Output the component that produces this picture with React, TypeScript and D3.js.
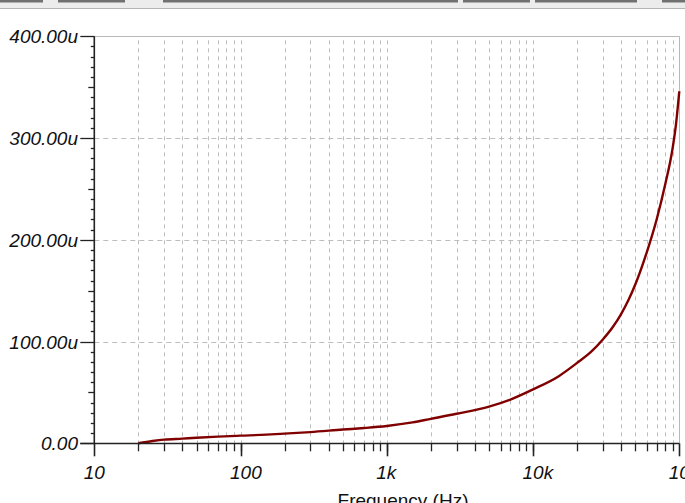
import React from "react";
import * as d3 from "d3";

const freqs = [20, 25, 30, 40, 50, 70, 100, 150, 200, 300, 500, 700, 1000, 1500, 2000, 3000, 5000, 7000, 10000, 15000, 20000, 25000, 30000, 35000, 40000, 45000, 50000, 60000, 70000, 80000, 90000, 95000, 100000];
const values = [0, 2.2, 3.6, 4.6, 5.5, 6.6, 7.5, 8.5, 9.5, 11, 13.5, 15, 17, 20.5, 24, 29, 36, 43, 53, 66, 79, 90, 102, 114, 127, 141, 156, 188, 220, 254, 290, 314, 346];
const xTickValues = [10, 100, 1000, 10000, 100000];
const xTickLabels = ["10", "100", "1k", "10k", "100k"];
const yTickValues = [0, 100, 200, 300, 400];
const yTickLabels = ["0.00", "100.00u", "200.00u", "300.00u", "400.00u"];
const xTitle = "Frequency (Hz)";

const W = 685;
const H = 503;

export default function App() {
  const x = d3.scaleLog().domain([10, 100000]).range([94.3, 679.3]);
  const y = d3.scaleLinear().domain([0, 400]).range([443.3, 36.3]);
  const left = x(10);
  const right = x(100000);
  const top = y(400);
  const bottom = y(0);

  const minorX: number[] = [];
  for (let dec = 10; dec < 100000; dec *= 10) {
    for (let m = 1; m <= 9; m++) {
      const v = dec * m;
      if (v > 10 && v < 100000) minorX.push(v);
    }
  }
  const minorY = d3.range(0, 401, 10);

  const line = d3
    .line<number>()
    .x((_, i) => x(freqs[i]))
    .y((d) => y(d))
    .curve(d3.curveMonotoneX);

  const gaps = [
    [43, 58],
    [125, 163],
    [458, 463],
    [530, 535],
    [637, 662],
  ];
  const darkSegs: number[][] = [];
  let start = 0;
  gaps.forEach(([a, b]) => {
    darkSegs.push([start, a]);
    start = b;
  });
  darkSegs.push([start, W]);

  const font = "'Liberation Sans', Arial, sans-serif";

  return (
    <svg
      width={W}
      height={H}
      style={{ position: "absolute", left: 0, top: 0, background: "#fff" }}
      fontFamily={font}
    >
      {/* top toolbar strip */}
      <rect x={0} y={0} width={W} height={9} fill="#ececec" />
      {darkSegs.map(([a, b], i) => (
        <rect key={"ds" + i} x={a} y={0} width={b - a} height={2.5} fill="#707070" />
      ))}
      <line x1={0} x2={W} y1={8.5} y2={8.5} stroke="#b4b4b4" strokeWidth={1} />

      {/* vertical grid */}
      {minorX.map((v) => (
        <line
          key={"gx" + v}
          x1={Math.round(x(v)) + 0.5}
          x2={Math.round(x(v)) + 0.5}
          y1={top + 4}
          y2={bottom}
          stroke="#bdbdbd"
          strokeWidth={1}
          strokeDasharray="4,4"
        />
      ))}
      {/* horizontal grid */}
      {[100, 200, 300].map((v) => (
        <line
          key={"gy" + v}
          x1={left}
          x2={right}
          y1={Math.round(y(v)) + 0.5}
          y2={Math.round(y(v)) + 0.5}
          stroke="#bdbdbd"
          strokeWidth={1}
          strokeDasharray="5,4"
        />
      ))}
      {/* frame top/right */}
      <line x1={left} x2={right} y1={Math.round(top) + 0.5} y2={Math.round(top) + 0.5} stroke="#b8b8b8" strokeWidth={1} />
      <line x1={Math.round(right) + 0.5} x2={Math.round(right) + 0.5} y1={top} y2={bottom} stroke="#b8b8b8" strokeWidth={1} />

      {/* curve */}
      <path d={line(values) || ""} fill="none" stroke="#800000" strokeWidth={2.4} />

      {/* y axis */}
      <line x1={left} x2={left} y1={top} y2={bottom} stroke="#222" strokeWidth={1.6} />
      {minorY.map((v) => {
        const len = v % 100 === 0 ? 14 : v % 50 === 0 ? 6 : 3.5;
        return (
          <line
            key={"ty" + v}
            x1={left - len}
            x2={left}
            y1={Math.round(y(v)) + 0.5}
            y2={Math.round(y(v)) + 0.5}
            stroke="#222"
            strokeWidth={1.3}
          />
        );
      })}
      {yTickValues.map((v, i) => (
        <text
          key={"yl" + v}
          x={78}
          y={y(v) + 7}
          textAnchor="end"
          fontSize={19}
          fontStyle="italic"
          fill="#111"
        >
          {yTickLabels[i]}
        </text>
      ))}

      {/* x axis */}
      <line x1={left - 14} x2={right} y1={Math.round(bottom) + 0.5} y2={Math.round(bottom) + 0.5} stroke="#222" strokeWidth={1.6} />
      {minorX.map((v) => (
        <line
          key={"tx" + v}
          x1={Math.round(x(v)) + 0.5}
          x2={Math.round(x(v)) + 0.5}
          y1={bottom}
          y2={bottom + 8}
          stroke="#222"
          strokeWidth={1.3}
        />
      ))}
      {xTickValues.map((v) => (
        <line
          key={"txM" + v}
          x1={Math.round(x(v)) + 0.5}
          x2={Math.round(x(v)) + 0.5}
          y1={bottom}
          y2={bottom + 13}
          stroke="#222"
          strokeWidth={1.6}
        />
      ))}
      {xTickValues.map((v, i) => (
        <text
          key={"xl" + v}
          x={x(v) - 10.5}
          y={479}
          textAnchor="start"
          fontSize={19}
          fontStyle="italic"
          fill="#111"
        >
          {xTickLabels[i]}
        </text>
      ))}
      <text x={403} y={507} textAnchor="middle" fontSize={19} fill="#111">
        {xTitle}
      </text>
    </svg>
  );
}
